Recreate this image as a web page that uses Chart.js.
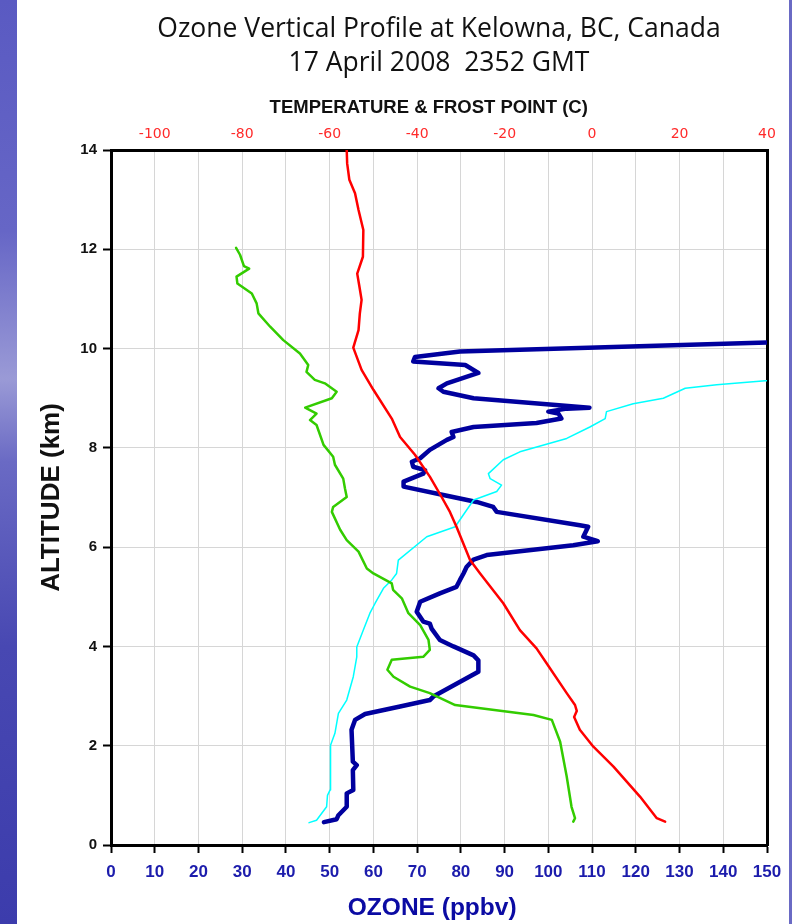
<!DOCTYPE html>
<html>
<head>
<meta charset="utf-8">
<script src="https://cdn.jsdelivr.net/npm/chart.js@4.4.1/dist/chart.umd.min.js"></script>
<style>
  html, body { margin: 0; padding: 0; }
  #wrap { position: relative; width: 792px; height: 924px; background: #fff; overflow: hidden; }
  .strip { position: absolute; top: 0; height: 924px; }
  #left { left: 0; width: 17px; background: linear-gradient(to bottom, #5a5ac2 0%, #6666c6 25%, #9a9ad6 41%, #6a6ac4 50%, #4848b2 70%, #3c3cac 100%); }
  #right { left: 789px; width: 3px; background: #6a6ac4; }
  canvas { position: absolute; left: 0; top: 0; }
</style>
</head>
<body>
<div id="wrap">
  <div class="strip" id="left"></div>
  <div class="strip" id="right"></div>
  <canvas id="chart" width="792" height="924"></canvas>
</div>
<script>
// ozone sonde profile, altitude in km
const ozonePpbv = [48.7, 51.6, 52, 53.9, 53.9, 55.4, 55.3, 56.2, 55.3, 55, 55.8, 58.1, 66.1, 72.9, 73.7, 84, 84, 82.9, 78.3, 75.2, 73.3, 72.9, 71.4, 69.9, 70.7, 75.2, 79, 79.8, 80.6, 81.3, 82.9, 85.9, 105.7, 111.3, 108, 109.1, 107.2, 88.2, 87.4, 83.6, 76, 66.9, 66.9, 71.4, 71.8, 69.1, 68.8, 70.7, 72.9, 76.8, 78.3, 77.9, 82.9, 97.3, 103, 102.3, 100, 104.2, 109.4, 82.9, 76, 74.9, 76.8, 84, 81, 69.1, 69.5, 79.8, 150, 170];
const ozoneAlt = [0.46, 0.52, 0.6, 0.77, 1.04, 1.11, 1.51, 1.61, 1.68, 2.32, 2.52, 2.64, 2.79, 2.92, 2.99, 3.49, 3.72, 3.82, 4.0, 4.13, 4.36, 4.46, 4.5, 4.7, 4.9, 5.07, 5.2, 5.34, 5.47, 5.6, 5.75, 5.84, 6.04, 6.12, 6.21, 6.41, 6.44, 6.71, 6.81, 6.91, 7.05, 7.22, 7.32, 7.48, 7.55, 7.62, 7.72, 7.79, 7.96, 8.16, 8.22, 8.32, 8.42, 8.5, 8.59, 8.69, 8.73, 8.79, 8.81, 9.0, 9.13, 9.2, 9.3, 9.51, 9.67, 9.74, 9.83, 9.94, 10.12, 10.16];

// cyan trace, plotted against the bottom axis
const cyanVal = [45.3, 47, 49.3, 49.5, 50.1, 50.2, 51.2, 52, 53.9, 55.4, 56.2, 56.2, 57.7, 59.2, 60.4, 62.3, 64.2, 65.3, 65.7, 72.2, 78.7, 82.9, 88.2, 89.3, 86.7, 86.3, 89.7, 93.5, 104.2, 109.5, 113, 113.3, 119.4, 126.3, 131.3, 138.5, 149.6, 165];
const cyanAlt = [0.45, 0.5, 0.77, 1.0, 1.11, 2.01, 2.25, 2.65, 2.92, 3.39, 3.79, 3.99, 4.33, 4.67, 4.87, 5.17, 5.34, 5.47, 5.74, 6.21, 6.41, 6.95, 7.12, 7.25, 7.38, 7.48, 7.76, 7.92, 8.19, 8.42, 8.59, 8.73, 8.89, 9.0, 9.2, 9.27, 9.35, 9.42];

// temperature (C), top axis
const tempC = [16.7, 14.8, 11, 4.9, 0.3, -2.8, -4.1, -3.5, -3.9, -5.8, -10.4, -12.7, -16.5, -20.3, -25.6, -27.9, -31, -32.5, -34.4, -37.1, -40.5, -43.9, -45.8, -50, -52.7, -54.6, -53.4, -53.1, -52.7, -53.2, -53.7, -52.4, -52.3, -53.4, -54.2, -55.5, -56, -56.1];
const tempAlt = [0.47, 0.54, 0.97, 1.58, 1.98, 2.32, 2.58, 2.7, 2.82, 3.06, 3.66, 3.96, 4.33, 4.87, 5.47, 5.74, 6.41, 6.71, 7.01, 7.42, 7.86, 8.22, 8.59, 9.17, 9.57, 10.02, 10.37, 10.71, 10.98, 11.25, 11.51, 11.85, 12.39, 12.79, 13.13, 13.4, 13.73, 14.0];

// frost point (C), top axis
const frostC = [-4.3, -3.9, -4.7, -5.8, -7.3, -9.2, -13.4, -31.3, -37.1, -41.6, -45.4, -46.8, -45.8, -38.6, -37.1, -37.4, -39.3, -42, -43.5, -45.5, -45.8, -50, -51.5, -53.4, -56.1, -57.6, -59.5, -59.2, -56.1, -56.5, -56.9, -58.8, -59.2, -61.4, -63, -64.5, -63, -65.6, -59.5, -58.4, -61.1, -63.4, -65.3, -64.9, -66.8, -70.6, -73.6, -76.3, -76.7, -77.8, -81.1, -81.3, -78.4, -79.6, -80.5, -81.4];
const frostAlt = [0.47, 0.54, 0.77, 1.38, 2.08, 2.52, 2.62, 2.82, 3.06, 3.19, 3.39, 3.53, 3.73, 3.79, 3.93, 4.13, 4.43, 4.67, 4.97, 5.14, 5.27, 5.47, 5.57, 5.91, 6.14, 6.35, 6.71, 6.81, 7.01, 7.18, 7.38, 7.66, 7.82, 8.06, 8.46, 8.56, 8.69, 8.81, 9.0, 9.13, 9.3, 9.37, 9.53, 9.67, 9.9, 10.17, 10.44, 10.71, 10.91, 11.11, 11.31, 11.45, 11.61, 11.66, 11.89, 12.03];

const tempTicks = [-100, -80, -60, -40, -20, 0, 20, 40];

renderChart();

function toPoints(xs, ys) {
  return xs.map((v, i) => ({ x: v, y: ys[i] }));
}

function renderChart() {
  const ctx = document.getElementById('chart');
  const arial = "'Liberation Sans', Arial, sans-serif";
  const titleSize = 26.5, titleLh = 1.265, titlePadTop = 13;
  const titleH = 2 * titleSize * titleLh + titlePadTop;

  new Chart(ctx, {
    type: 'line',
    data: {
      datasets: [
        { label: 'Temperature', data: toPoints(tempC, tempAlt), xAxisID: 'x2', yAxisID: 'y',
          borderColor: '#ff0000', borderWidth: 2.5 },
        { label: 'Frost point', data: toPoints(frostC, frostAlt), xAxisID: 'x2', yAxisID: 'y',
          borderColor: '#33cc00', borderWidth: 2.5 },
        { label: 'Cyan', data: toPoints(cyanVal, cyanAlt), xAxisID: 'x', yAxisID: 'y',
          borderColor: '#00ffff', borderWidth: 1.5 },
        { label: 'Ozone', data: toPoints(ozonePpbv, ozoneAlt), xAxisID: 'x', yAxisID: 'y',
          borderColor: '#00009e', borderWidth: 4.5 }
      ]
    },
    options: {
      responsive: false,
      animation: false,
      layout: { padding: 0 },
      elements: { point: { radius: 0 }, line: { tension: 0, fill: false, borderJoinStyle: 'round', borderCapStyle: 'round' } },
      plugins: {
        legend: { display: false },
        tooltip: { enabled: false },
        title: {
          display: true,
          fullSize: false,
          text: ['Ozone Vertical Profile at Kelowna, BC, Canada', '17 April 2008  2352 GMT'],
          color: '#111',
          font: { family: "'Open Sans', sans-serif", size: titleSize, weight: 'normal', lineHeight: titleLh },
          padding: { top: titlePadTop, bottom: 0 }
        }
      },
      scales: {
        x: {
          type: 'linear', position: 'bottom', min: 0, max: 150,
          afterFit: (s) => { s.height = 924 - 845; },
          ticks: { stepSize: 10, padding: 9, color: '#1c1cac', font: { family: arial, size: 17, weight: 'bold' } },
          grid: { color: '#d6d6d6', lineWidth: 1, tickColor: '#000', tickWidth: 2, tickLength: 8 },
          border: { display: true, color: '#000', width: 3 },
          title: { display: true, text: 'OZONE (ppbv)  ', color: '#0b0ba3', padding: { top: 0, bottom: 1 },
            font: { family: arial, size: 24.5, weight: 'bold', lineHeight: 1.2 } }
        },
        x2: {
          type: 'linear', position: 'top', min: -110, max: 40,
          afterFit: (s) => { s.height = 150 - titleH; },
          afterBuildTicks: (s) => { s.ticks = tempTicks.map(v => ({ value: v })); },
          ticks: { padding: 7, color: '#ff2a2a', font: { family: "'DejaVu Sans', sans-serif", size: 14, lineHeight: 1.2 } },
          grid: { display: false, drawTicks: false },
          border: { display: true, color: '#000', width: 3 },
          title: { display: true, text: 'TEMPERATURE & FROST POINT (C)    ', color: '#111', padding: { top: 17, bottom: 0 },
            font: { family: arial, size: 18.5, weight: 'bold', lineHeight: 1.2 } }
        },
        y: {
          type: 'linear', position: 'left', min: 0, max: 14,
          afterFit: (s) => { s.width = 111; },
          ticks: { stepSize: 2, padding: 6, color: '#111', font: { family: arial, size: 15, weight: 'bold' } },
          grid: { color: '#d6d6d6', lineWidth: 1, tickColor: '#000', tickWidth: 2, tickLength: 8 },
          border: { display: true, color: '#000', width: 3 },
          title: { display: true, text: 'ALTITUDE (km)', color: '#111', padding: { top: 36, bottom: 0 },
            font: { family: arial, size: 26, weight: 'bold', lineHeight: 1.2 } }
        },
        y2: {
          type: 'linear', position: 'right', min: 0, max: 14,
          afterFit: (s) => { s.width = 792 - 767; },
          ticks: { display: false },
          grid: { display: false, drawTicks: false },
          border: { display: true, color: '#000', width: 3 }
        }
      }
    }
  });
}
</script>
</body>
</html>
